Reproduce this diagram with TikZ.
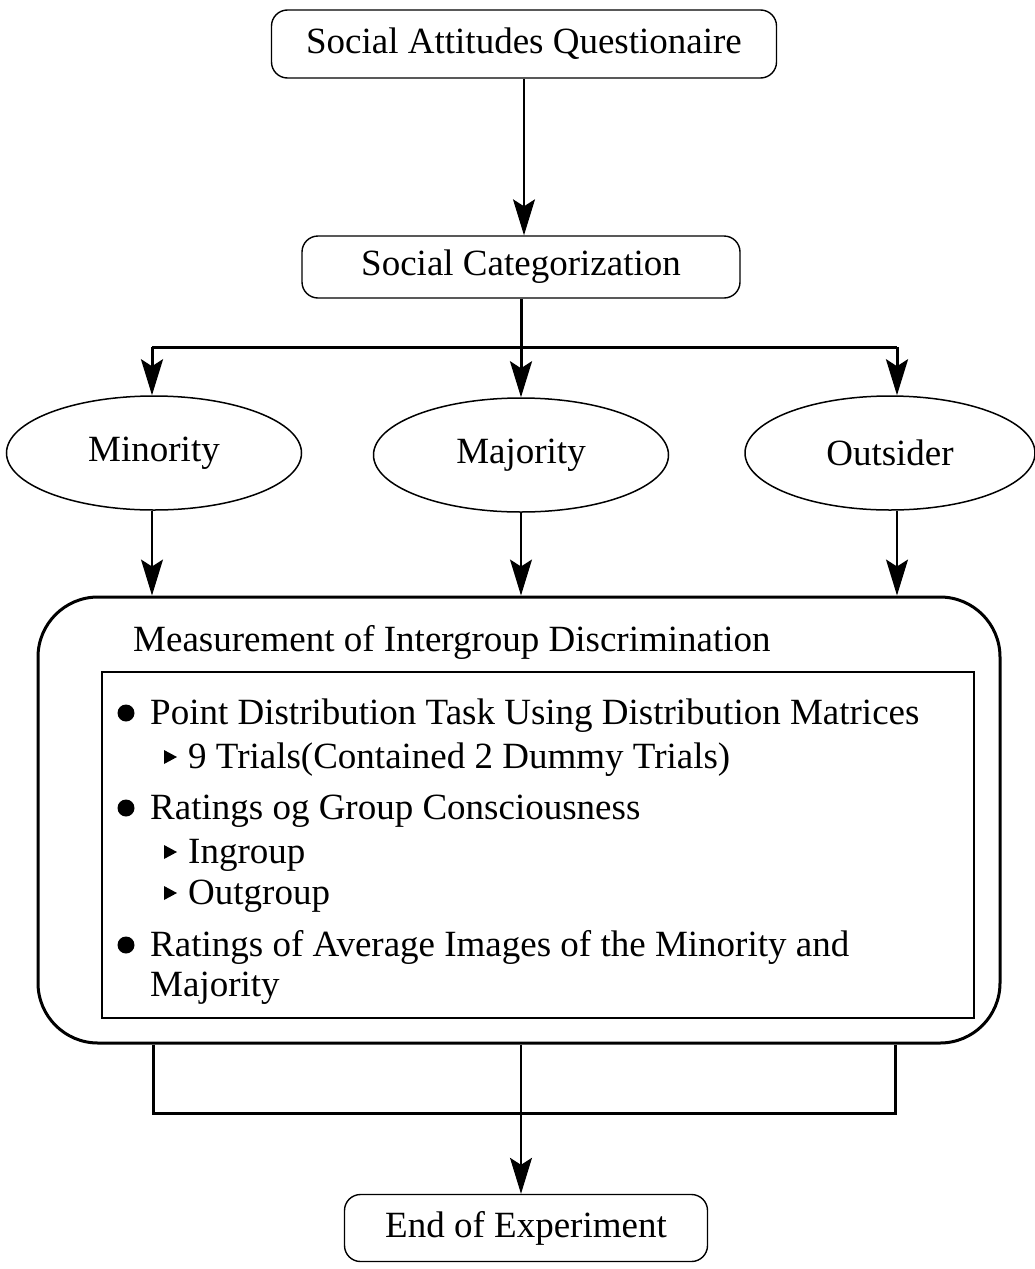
\documentclass[tikz,border=0pt]{standalone}
\usepackage{fontspec}
\setmainfont{Liberation Serif}
\usetikzlibrary{shapes.geometric,arrows.meta}
\begin{document}
\begin{tikzpicture}[x=1pt,y=-1pt,
  every node/.style={font=\fontsize{37}{44}\selectfont},
  rbox/.style={draw, line width=1.4pt, rounded corners=16pt, inner sep=0pt},
  oval/.style={draw, ellipse, line width=1.5pt, inner sep=0pt, minimum width=295pt, minimum height=114pt},
  thinl/.style={line width=1.3pt},
  thickl/.style={line width=3pt},
  tip/.style={-{Stealth[length=36pt,width=22pt,inset=7pt]}},
  txt/.style={anchor=base west, inner sep=0pt}]
\useasboundingbox (0,0) rectangle (1035,1269);
\fill[white] (0,0) rectangle (1035,1269);

% boxes
\node[rbox, minimum width=505pt, minimum height=68pt] (q) at (524,44) {Social Attitudes Questionaire};
\node[rbox, minimum width=438pt, minimum height=62pt] (cat) at (521,267) {Social Categorization};
\node[oval] (min) at (154,453) {Minority};
\node[oval] (maj) at (521,455) {Majority};
\node[oval, minimum width=290pt] (out) at (890,453) {Outsider};
\node[draw, line width=3pt, rounded corners=60pt, minimum width=962pt, minimum height=446pt, inner sep=0pt] (meas) at (519,820) {};
\node[draw, thinl, minimum width=872pt, minimum height=346pt, inner sep=0pt] (list) at (538,845) {};
\node[rbox, minimum width=363pt, minimum height=67pt] (end) at (526,1228) {End of Experiment};

% texts inside
\node[txt] (title) at (133,651) {Measurement of Intergroup Discrimination};
\node[txt] (l1) at (150,724) {Point Distribution Task Using Distribution Matrices};
\node[txt] (l2) at (188,768) {9 Trials(Contained 2 Dummy Trials)};
\node[txt] (l3) at (150,819) {Ratings og Group Consciousness};
\node[txt] (l4) at (188,863) {Ingroup};
\node[txt] (l5) at (188,904) {Outgroup};
\node[txt] (l6) at (150,956) {Ratings of Average Images of the Minority and};
\node[txt] (l7) at (150,996) {Majority};

% bullets
\fill (126,713) circle (8.5pt);
\fill (126,808) circle (8.5pt);
\fill (126,945) circle (8.5pt);
\fill (164,750) -- (177,757) -- (164,764) -- cycle;
\fill (164,845) -- (177,852) -- (164,859) -- cycle;
\fill (164,886) -- (177,893) -- (164,900) -- cycle;

% connectors
\coordinate (bl) at (152,347);
\coordinate (bm) at (521,347);
\coordinate (br) at (897,347);
\draw[thinl, tip] (q.south) -- (q.south |- cat.north);
\draw[thickl] (cat.south) -- (bm);
\draw[thickl] (bl) -- (br);
\draw[thickl, tip] (bl) -- (bl |- min.north);
\draw[thickl, tip] (bm) -- (maj.north);
\draw[thickl, tip] (br) -- (br |- out.north);
\draw[thinl, tip] (bl |- min.south) -- (bl |- meas.north);
\draw[thinl, tip] (maj.south) -- (maj.south |- meas.north);
\draw[thinl, tip] (br |- out.south) -- (br |- meas.north);

\coordinate (dl) at (153,1113);
\coordinate (dr) at (895,1113);
\draw[thickl] (dl |- meas.south) -- (dl) -- (dr) -- (dr |- meas.south);
\draw[thinl, tip] (bm |- meas.south) -- (bm |- end.north);
\end{tikzpicture}
\end{document}
